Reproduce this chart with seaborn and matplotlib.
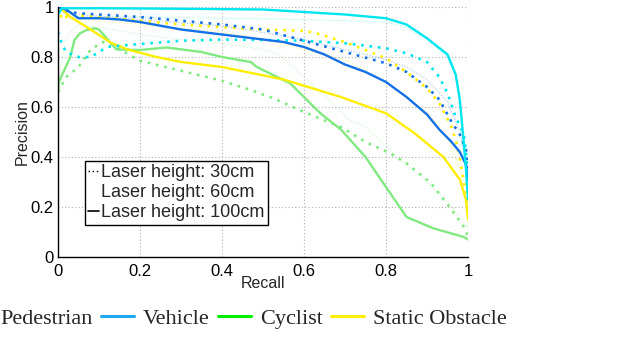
import matplotlib
matplotlib.use("Agg")
import matplotlib.pyplot as plt
import seaborn as sns
import numpy as np
from matplotlib.lines import Line2D

# ---------------- data (recall, precision) ----------------
cyan100_r = [0, 0.01, 0.1, 0.3, 0.5, 0.6, 0.7, 0.8, 0.85, 0.9, 0.95, 0.97, 0.98, 0.99, 0.995, 1.0]
cyan100_p = [0.97, 0.995, 0.995, 0.993, 0.99, 0.98, 0.97, 0.955, 0.93, 0.875, 0.81, 0.73, 0.63, 0.45, 0.35, 0.23]
cyan30_r = [0, 0.01, 0.02, 0.05, 0.08, 0.1, 0.12, 0.15, 0.2, 0.3, 0.4, 0.5, 0.6, 0.7, 0.75, 0.8, 0.85, 0.9, 0.93, 0.95, 0.97, 0.99, 1.0]
cyan30_p = [0.9, 0.85, 0.82, 0.80, 0.80, 0.82, 0.84, 0.845, 0.852, 0.865, 0.87, 0.868, 0.865, 0.855, 0.845, 0.835, 0.815, 0.78, 0.72, 0.655, 0.56, 0.49, 0.35]
cyan60_r = [0, 0.05, 0.2, 0.4, 0.6, 0.8, 0.85, 0.9, 0.95, 0.97, 0.99, 1.0]
cyan60_p = [1.0, 0.96, 0.96, 0.955, 0.95, 0.94, 0.92, 0.87, 0.80, 0.72, 0.5, 0.3]

blue100_r = [0, 0.02, 0.05, 0.1, 0.15, 0.2, 0.3, 0.4, 0.5, 0.55, 0.6, 0.65, 0.7, 0.75, 0.8, 0.85, 0.9, 0.93, 0.96, 0.98, 0.995, 1.0]
blue100_p = [1.0, 0.99, 0.955, 0.955, 0.95, 0.94, 0.91, 0.89, 0.87, 0.86, 0.84, 0.81, 0.77, 0.74, 0.70, 0.64, 0.57, 0.51, 0.46, 0.42, 0.37, 0.28]
blue30_r = [0, 0.03, 0.05, 0.1, 0.2, 0.3, 0.4, 0.5, 0.6, 0.7, 0.8, 0.85, 0.9, 0.93, 0.96, 0.98, 0.995, 1.0]
blue30_p = [1.0, 0.98, 0.975, 0.97, 0.96, 0.945, 0.93, 0.91, 0.865, 0.82, 0.775, 0.74, 0.68, 0.63, 0.54, 0.49, 0.43, 0.35]
blue60_r = [0, 0.05, 0.2, 0.4, 0.6, 0.7, 0.8, 0.85, 0.9, 0.95, 0.98, 1.0]
blue60_p = [1.0, 0.97, 0.95, 0.925, 0.87, 0.83, 0.79, 0.76, 0.71, 0.62, 0.50, 0.35]

yellow100_r = [0, 0.01, 0.03, 0.07, 0.13, 0.17, 0.24, 0.3, 0.4, 0.49, 0.55, 0.61, 0.69, 0.8, 0.87, 0.94, 0.98, 0.995, 1.0]
yellow100_p = [1.0, 0.99, 0.96, 0.92, 0.856, 0.83, 0.80, 0.78, 0.76, 0.73, 0.71, 0.68, 0.64, 0.575, 0.495, 0.40, 0.31, 0.23, 0.15]
yellow30_r = [0, 0.01, 0.03, 0.1, 0.2, 0.3, 0.4, 0.5, 0.6, 0.63, 0.7, 0.8, 0.85, 0.9, 0.93, 0.96, 0.975, 0.99, 1.0]
yellow30_p = [1.0, 0.95, 0.97, 0.96, 0.945, 0.93, 0.92, 0.91, 0.905, 0.895, 0.86, 0.795, 0.74, 0.675, 0.615, 0.52, 0.44, 0.30, 0.20]
yellow60_r = [0, 0.05, 0.2, 0.4, 0.5, 0.6, 0.7, 0.8, 0.9, 0.95, 0.98, 1.0]
yellow60_p = [1.0, 0.95, 0.93, 0.90, 0.87, 0.83, 0.79, 0.70, 0.58, 0.48, 0.35, 0.18]

green100_r = [0, 0.002, 0.03, 0.04, 0.054, 0.07, 0.09, 0.1, 0.143, 0.2, 0.265, 0.35, 0.4, 0.47, 0.485, 0.566, 0.6, 0.64, 0.69, 0.75, 0.8, 0.85, 0.915, 0.99, 1.0]
green100_p = [0.66, 0.70, 0.80, 0.868, 0.895, 0.908, 0.915, 0.91, 0.83, 0.828, 0.838, 0.82, 0.80, 0.78, 0.76, 0.695, 0.64, 0.575, 0.51, 0.40, 0.28, 0.16, 0.115, 0.08, 0.07]
green30_r = [0, 0.02, 0.05, 0.08, 0.11, 0.13, 0.2, 0.3, 0.4, 0.47, 0.525, 0.607, 0.69, 0.75, 0.81, 0.85, 0.91, 0.955, 0.99, 1.0]
green30_p = [0.66, 0.72, 0.76, 0.83, 0.86, 0.85, 0.785, 0.745, 0.705, 0.668, 0.635, 0.575, 0.52, 0.46, 0.415, 0.375, 0.295, 0.20, 0.12, 0.08]
green60_r = [0, 0.02, 0.05, 0.1, 0.2, 0.3, 0.4, 0.5, 0.54, 0.58, 0.66, 0.71, 0.75, 0.8, 0.85, 0.9, 0.95, 0.98, 1.0]
green60_p = [0.7, 0.88, 0.93, 0.92, 0.89, 0.87, 0.855, 0.83, 0.81, 0.75, 0.63, 0.55, 0.52, 0.44, 0.37, 0.30, 0.22, 0.16, 0.12]

# colours
c_blue = "#1470e6"
c_cyan = "#00e6ee"
c_green = "#80ea80"
c_yellow = "#ffee00"

height_labels = ["Laser height: 30cm", "Laser height: 60cm", "Laser height: 100cm"]
class_labels = ["Pedestrian", "Vehicle", "Cyclist", "Static Obstacle"]
class_line_colors = ["#1eaaf0", "#00ee00", "#ffee00", "none"]

# ---------------- plotting ----------------
sns.set_style("white")
plt.rcParams["font.family"] = ["Liberation Sans", "DejaVu Sans"]

fig = plt.figure(figsize=(6.18, 3.37), dpi=100)
ax = fig.add_axes([58 / 618, 1 - 257 / 337, 410 / 618, 250 / 337])

curves = [
    (cyan60_r, cyan60_p, c_cyan, "60"),
    (blue60_r, blue60_p, c_blue, "60"),
    (yellow60_r, yellow60_p, c_yellow, "60"),
    (green60_r, green60_p, c_green, "60"),
    (green30_r, green30_p, c_green, "30"),
    (green100_r, green100_p, c_green, "100"),
    (yellow30_r, yellow30_p, c_yellow, "30"),
    (yellow100_r, yellow100_p, c_yellow, "100"),
    (cyan30_r, cyan30_p, c_cyan, "30"),
    (blue30_r, blue30_p, c_blue, "30"),
    (blue100_r, blue100_p, c_blue, "100"),
    (cyan100_r, cyan100_p, c_cyan, "100"),
]

for r, p, col, h in curves:
    if h == "30":
        kw = dict(linewidth=1.9, dashes=(1, 2.2))
    elif h == "60":
        kw = dict(linewidth=0.8, alpha=0.4, dashes=(1, 1.5))
    else:
        kw = dict(linewidth=1.7)
    sns.lineplot(x=r, y=p, ax=ax, color=col, estimator=None, sort=False, **kw)

ax.set_xlim(0, 1)
ax.set_ylim(0, 1)
ax.set_xticks([0, 0.2, 0.4, 0.6, 0.8, 1])
ax.set_xticklabels(["0", "0.2", "0.4", "0.6", "0.8", "1"])
ax.set_yticks([0, 0.2, 0.4, 0.6, 0.8, 1])
ax.set_yticklabels(["0", "0.2", "0.4", "0.6", "0.8", "1"])
ax.tick_params(axis="both", direction="in", length=3, width=0.8, labelsize=12, pad=3, colors="black")
ax.tick_params(axis="x", pad=5)
ax.grid(True, linestyle=(0, (1, 2)), color="#b0b0b0", linewidth=0.8)
for s in ["top", "right"]:
    ax.spines[s].set_visible(False)
for s in ["left", "bottom"]:
    ax.spines[s].set_color("black")
    ax.spines[s].set_linewidth(1.0)
ax.set_xlabel("Recall", fontsize=11.5, labelpad=-2)
ax.set_ylabel("Precision", fontsize=11.5, labelpad=1)

# inner legend (laser heights)
h_handles = [
    Line2D([], [], color="black", linewidth=1.0, dashes=(1, 2)),
    Line2D([], [], color="black", linewidth=0.6, alpha=0.0),
    Line2D([], [], color="black", linewidth=1.2),
]
leg = ax.legend(h_handles, height_labels, loc="lower left", bbox_to_anchor=(0.065, 0.128),
                fontsize=13, handlelength=0.6, handletextpad=0.1, borderpad=0.2,
                labelspacing=0.17, fancybox=False, framealpha=1, edgecolor="black",
                borderaxespad=0)
leg.get_frame().set_linewidth(1.0)

# bottom legend (classes)
c_handles = [Line2D([], [], color=c, linewidth=2.2) if c != "none" else Line2D([], [], alpha=0)
             for c in class_line_colors]
fig.legend(c_handles, class_labels, loc="center left", bbox_to_anchor=(-0.032, 0.055), ncol=4,
           frameon=False, markerfirst=False, handlelength=1.5, handletextpad=0.36,
           columnspacing=0.4, prop={"family": ["Liberation Serif", "DejaVu Serif"], "size": 16})

fig.savefig("out.png", dpi=100)
